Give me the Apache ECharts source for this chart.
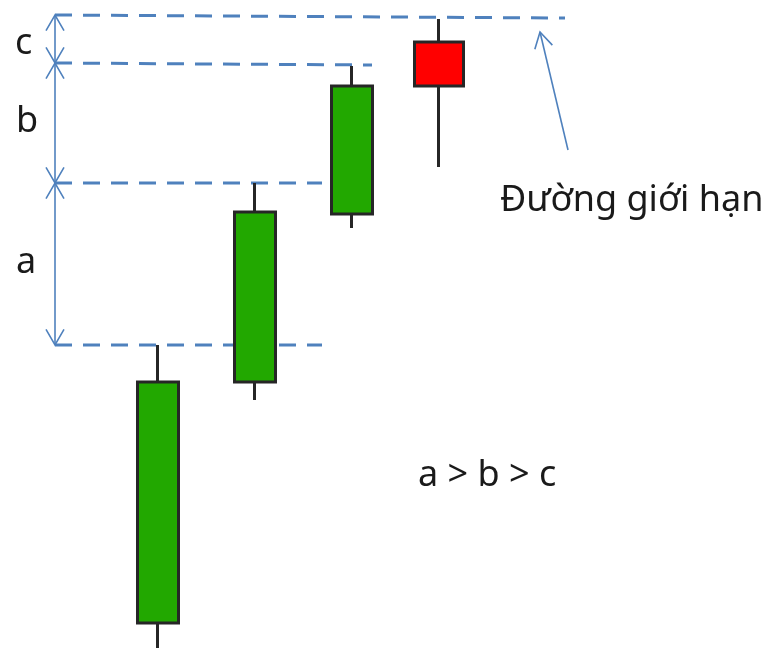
<!DOCTYPE html>
<html>
<head>
<meta charset="utf-8">
<script src="https://cdn.jsdelivr.net/npm/echarts@6/dist/echarts.min.js"></script>
<style>
  html, body { margin: 0; padding: 0; background: #fff; }
  #main { width: 764px; height: 648px; }
</style>
</head>
<body>
<div id="main"></div>
<script>
// vị trí nến trên trục thời gian (đơn vị tùy ý)
var candleX = [158, 255, 352];
// nến tăng: [open, close, lowest, highest]
var upCandles = [
  [25, 266, 0, 303],
  [266, 436, 248, 465],
  [434, 562, 420, 582]
];
// nến giảm cuối cùng
var downX = [439];
var downCandles = [
  [606, 562, 481, 629]
];

// các đường ngang nét đứt: [x1, y1, x2, y2]
var dashLines = [
  [55, 633, 565, 630],
  [55, 585, 372, 583],
  [55, 465, 322, 465],
  [55, 303, 322, 303]
];
// mũi tên đo a, b, c: [x1, y1, x2, y2, hai đầu]
var arrows = [
  [55, 633, 55, 585, 1],
  [55, 585, 55, 465, 1],
  [55, 465, 55, 303, 1],
  [568, 498, 540, 616, 0]
];

var blue = '#4F81BD';
var chart = echarts.init(document.getElementById('main'));

function withX(xs, rows) {
  var out = [];
  for (var i = 0; i < rows.length; i++) {
    out.push([xs[i]].concat(rows[i]));
  }
  return out;
}

// đầu mũi tên dạng chữ V
function head(tip, from, len) {
  var dx = from[0] - tip[0], dy = from[1] - tip[1];
  var d = Math.sqrt(dx * dx + dy * dy);
  var ux = dx / d, uy = dy / d;
  var a = Math.PI / 6;
  var p1 = [tip[0] + len * (ux * Math.cos(a) - uy * Math.sin(a)), tip[1] + len * (ux * Math.sin(a) + uy * Math.cos(a))];
  var p2 = [tip[0] + len * (ux * Math.cos(-a) - uy * Math.sin(-a)), tip[1] + len * (ux * Math.sin(-a) + uy * Math.cos(-a))];
  return {
    type: 'polyline',
    shape: { points: [p1, tip, p2] },
    style: { stroke: blue, lineWidth: 1.6, fill: null }
  };
}

var dashSeries = dashLines.map(function (l) {
  return {
    type: 'line',
    data: [[l[0], l[1]], [l[2], l[3]]],
    symbol: 'none',
    silent: true,
    lineStyle: { color: blue, width: 3, type: [17, 11] },
    z: 1
  };
});

var option = {
  animation: false,
  grid: { left: 0, right: 0, top: 0, bottom: 0 },
  xAxis: { type: 'value', min: 0, max: 764, show: false },
  yAxis: { type: 'value', min: 0, max: 648, show: false },
  series: dashSeries.concat([
    {
      type: 'candlestick',
      data: withX(candleX, upCandles),
      encode: { x: 0, y: [1, 2, 3, 4] },
      barWidth: 42,
      itemStyle: { color: '#22A800', borderColor: '#262626', borderWidth: 3 },
      z: 3
    },
    {
      type: 'candlestick',
      data: withX(downX, downCandles),
      encode: { x: 0, y: [1, 2, 3, 4] },
      barWidth: 50,
      itemStyle: { color0: '#FF0000', borderColor0: '#262626', borderWidth: 3 },
      z: 3
    },
    {
      type: 'custom',
      data: arrows,
      silent: true,
      z: 2,
      renderItem: function (params, api) {
        var p1 = api.coord([api.value(0), api.value(1)]);
        var p2 = api.coord([api.value(2), api.value(3)]);
        var kids = [{
          type: 'line',
          shape: { x1: p1[0], y1: p1[1], x2: p2[0], y2: p2[1] },
          style: { stroke: blue, lineWidth: 1.6 }
        }];
        kids.push(head(p2, p1, 18));
        if (api.value(4)) kids.push(head(p1, p2, 18));
        return { type: 'group', children: kids };
      }
    }
  ]),
  graphic: [
    { type: 'text', left: 15, top: 26, style: { text: 'c', font: '36px "Noto Sans"', fill: '#1a1a1a' } },
    { type: 'text', left: 16, top: 104, style: { text: 'b', font: '36px "Noto Sans"', fill: '#1a1a1a' } },
    { type: 'text', left: 16, top: 245, style: { text: 'a', font: '36px "Noto Sans"', fill: '#1a1a1a' } },
    { type: 'text', left: 500, top: 183, style: { text: 'Đường giới hạn', font: '36px "Noto Sans"', fill: '#1a1a1a' } },
    { type: 'text', left: 418, top: 458, style: { text: 'a > b > c', font: '36px "Noto Sans"', fill: '#1a1a1a' } }
  ]
};

chart.setOption(option);
</script>
</body>
</html>
